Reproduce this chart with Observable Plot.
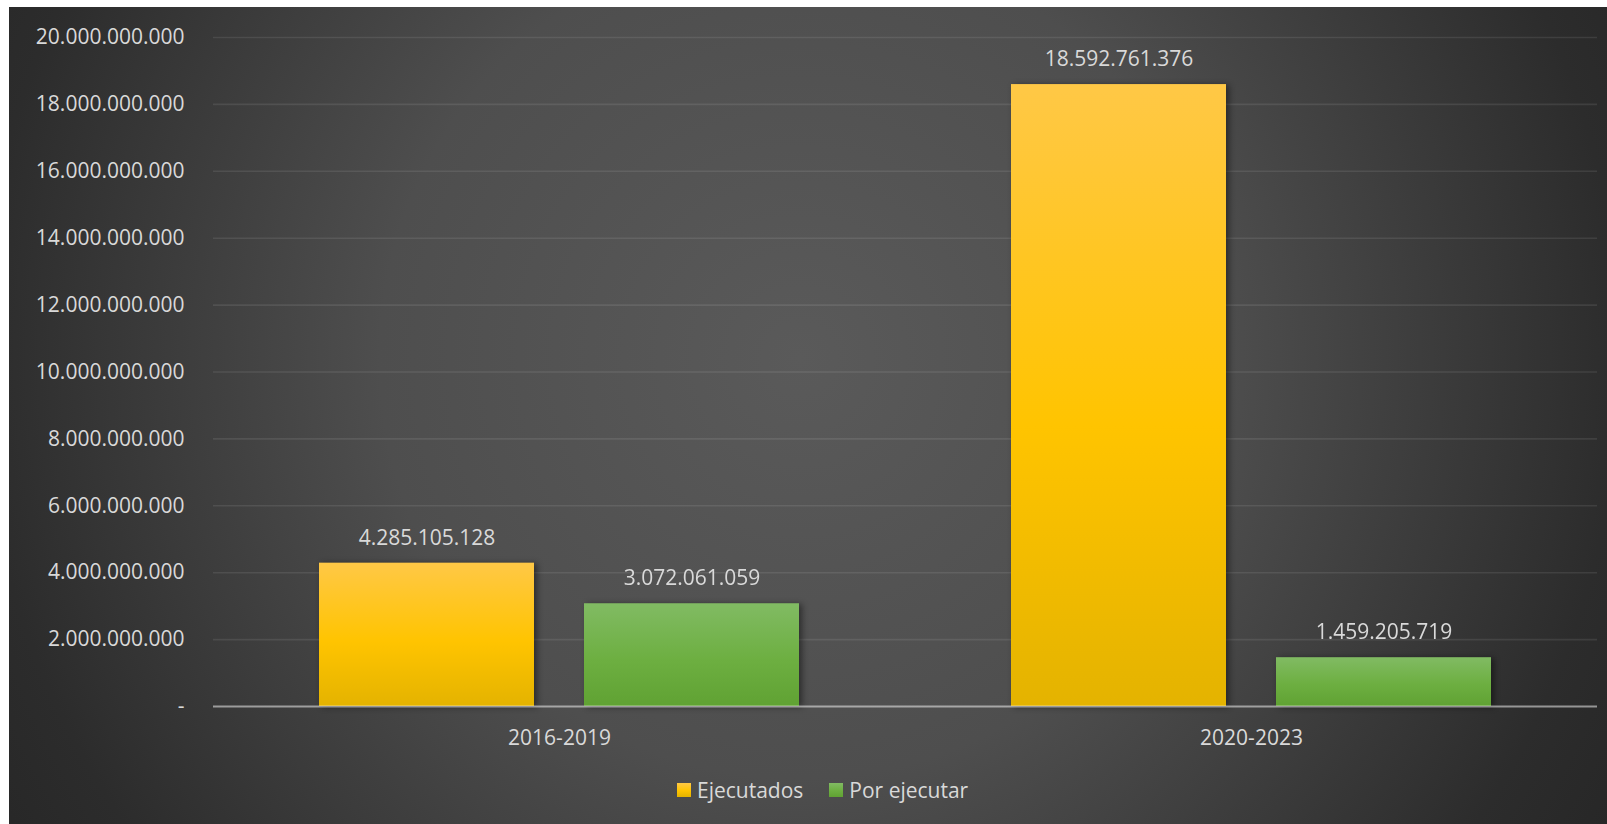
<!DOCTYPE html>
<html>
<head>
<meta charset="utf-8">
<script src="https://cdn.jsdelivr.net/npm/d3@7"></script>
<script src="https://cdn.jsdelivr.net/npm/@observablehq/plot@0.6"></script>
<style>
  html, body { margin: 0; padding: 0; background: #ffffff; }
  #chart {
    position: absolute; left: 9px; top: 7px; width: 1598px; height: 817px;
    background: radial-gradient(circle at 49.5% 43%, #5a5a5a 0px, #4e4e4e 420px, #2c2c2c 820px, #262626 960px);
    font-family: "Open Sans", sans-serif; color: #d9d9d9; overflow: hidden;
  }
  #chart svg { position: absolute; left: 0; top: 0; background: transparent; }
  #chart svg g[aria-label="bar"] { filter: drop-shadow(3px 1px 3px rgba(0,0,0,0.45)); }
  #legend { position: absolute; left: 668px; top: 769px; display: flex; align-items: center; font-size: 21px; color: #d9d9d9; }
  #legend .item { display: flex; align-items: center; margin-right: 26px; }
  #legend .sw { width: 14px; height: 14px; margin-right: 6px; }
</style>
</head>
<body>
<div id="chart"></div>
<script>
const periods = ["2016-2019", "2020-2023"];
const series = ["Ejecutados", "Por ejecutar"];
const ejecutados = [4285105128, 18592761376];
const porEjecutar = [3072061059, 1459205719];
const yTicks = [0, 2e9, 4e9, 6e9, 8e9, 10e9, 12e9, 14e9, 16e9, 18e9, 20e9];
const seriesGradients = [
  [["0%", "#ffc846"], ["55%", "#ffc400"], ["100%", "#e4b300"]],
  [["0%", "#81bb63"], ["55%", "#6daf41"], ["100%", "#60a233"]]
];
const gradIds = ["gradEjec", "gradPor"];

const rows = [];
periods.forEach((p, i) => {
  rows.push({period: p, series: series[0], value: ejecutados[i]});
  rows.push({period: p, series: series[1], value: porEjecutar[i]});
});

const locale = d3.formatLocale({decimal: ",", thousands: ".", grouping: [3], currency: ["$", ""]});
const fmt = locale.format(",d");
const fmtTick = v => v === 0 ? "-" : fmt(v);

const textColor = "#d9d9d9";

const svg = Plot.plot({
  width: 1598,
  height: 760,
  marginTop: 30,
  marginBottom: 61,
  marginLeft: 203,
  marginRight: 10,
  style: {background: "transparent", fontFamily: "Open Sans, sans-serif", fontSize: "21px", color: textColor, overflow: "visible"},
  facet: {data: rows, x: "period"},
  fx: {domain: periods, padding: 0, axis: "bottom", tickSize: 0, tickPadding: 23.5, label: null},
  x: {domain: series, axis: null, paddingInner: 0.19, paddingOuter: 0.398},
  y: {domain: [0, 20e9], ticks: yTicks, tickFormat: fmtTick, tickSize: 0, tickPadding: 29, label: null, line: false},
  color: {domain: series, range: gradIds.map(id => `url(#${id})`)},
  marks: [
    Plot.ruleY(yTicks.slice(1), {stroke: "#ffffff", strokeOpacity: 0.09, strokeWidth: 1.6}),
    Plot.barY(rows, {x: "series", y: "value", fill: "series"}),
    Plot.ruleY([0], {stroke: "#ffffff", strokeOpacity: 0.5, strokeWidth: 2.2}),
    Plot.text(rows, {x: "series", y: "value", text: d => fmt(d.value), dy: -25, fill: textColor, fontSize: 21})
  ]
});

const defs = d3.select(svg).insert("defs", ":first-child");
gradIds.forEach((id, i) => {
  const g = defs.append("linearGradient").attr("id", id).attr("x1", 0).attr("y1", 0).attr("x2", 0).attr("y2", 1);
  seriesGradients[i].forEach(([o, c]) => g.append("stop").attr("offset", o).attr("stop-color", c));
});
d3.select(svg).selectAll("text").attr("fill", textColor);

const chart = document.getElementById("chart");
chart.appendChild(svg);

const legend = document.createElement("div");
legend.id = "legend";
series.forEach((s, i) => {
  const item = document.createElement("div");
  item.className = "item";
  const sw = document.createElement("div");
  sw.className = "sw";
  const st = seriesGradients[i];
  sw.style.background = `linear-gradient(to bottom, ${st.map(([o, c]) => c + " " + o).join(", ")})`;
  const label = document.createElement("span");
  label.textContent = s;
  item.appendChild(sw);
  item.appendChild(label);
  legend.appendChild(item);
});
chart.appendChild(legend);
</script>
</body>
</html>
